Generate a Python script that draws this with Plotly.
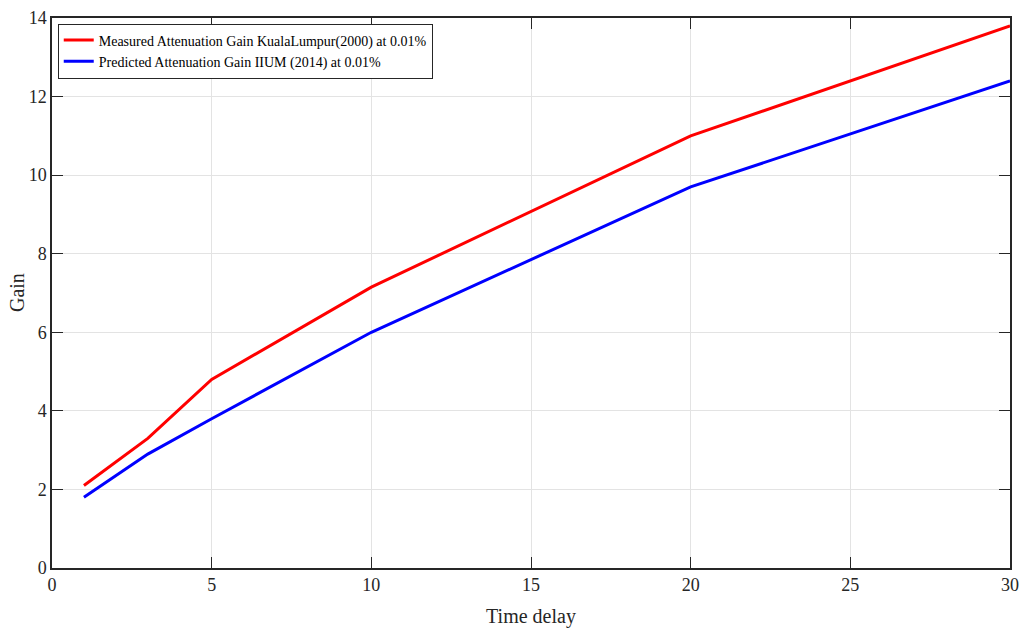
import plotly.graph_objects as go

x_vals = [1, 3, 5, 10, 20, 30]
measured_kl = [2.1, 3.3, 4.8, 7.15, 11.0, 13.8]
predicted_iium = [1.8, 2.9, 3.8, 6.0, 9.7, 12.4]
x_ticks = [0, 5, 10, 15, 20, 25, 30]
y_ticks = [0, 2, 4, 6, 8, 10, 12, 14]

font_family = "Liberation Serif"

fig = go.Figure()
fig.add_trace(go.Scatter(x=x_vals, y=measured_kl, mode="lines",
                         name="Measured Attenuation Gain KualaLumpur(2000) at 0.01%",
                         line=dict(color="#ff0000", width=3)))
fig.add_trace(go.Scatter(x=x_vals, y=predicted_iium, mode="lines",
                         name="Predicted Attenuation Gain IIUM (2014) at 0.01%",
                         line=dict(color="#0000ff", width=3)))

axis_common = dict(showline=True, linecolor="#262626", linewidth=1.5, mirror="ticks",
                   ticks="inside", ticklen=11, tickcolor="#262626", tickwidth=1.2,
                   showgrid=True, gridcolor="#e3e3e3", gridwidth=1, zeroline=False,
                   automargin=False,
                   tickfont=dict(family=font_family, size=18, color="#262626"))

fig.update_layout(
    width=1019, height=628,
    margin=dict(l=52, r=9, t=18, b=60),
    paper_bgcolor="white", plot_bgcolor="white",
    font=dict(family=font_family, color="#262626"),
    xaxis=dict(range=[0, 30], tickvals=x_ticks,
               title=dict(text="Time delay", font=dict(family=font_family, size=20, color="#262626"), standoff=16),
               **axis_common),
    yaxis=dict(range=[0, 14], tickvals=y_ticks, **axis_common),
    legend=dict(x=0.006, y=0.99, xanchor="left", yanchor="top",
                bgcolor="white", bordercolor="#262626", borderwidth=1,
                font=dict(family=font_family, size=14, color="#000000"),
                tracegroupgap=0, itemwidth=30),
    showlegend=True,
    annotations=[dict(text="Gain", xref="paper", yref="paper", x=-0.0365, y=0.5,
                      xanchor="center", yanchor="middle", textangle=-90, showarrow=False,
                      font=dict(family=font_family, size=20, color="#262626"))],
)

fig.write_html("out.html")
